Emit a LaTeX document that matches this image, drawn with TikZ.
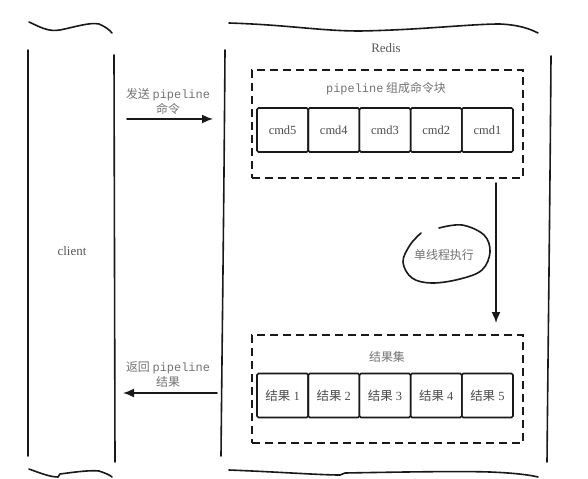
\documentclass[tikz,border=0pt]{standalone}
\usepackage{fontspec}
\setmainfont{Liberation Serif}
\setmonofont{Liberation Mono}
\newfontfamily\cjk{Noto Sans CJK SC}
\usetikzlibrary{arrows.meta}
\newcommand\plword{{\ttfamily pipeline}}
\begin{document}
\begin{tikzpicture}[x=1bp,y=-1bp,
  stroke/.style={line width=1.6bp, line cap=round, line join=round, draw=black!90},
  dbox/.style={draw=black!90, line width=1.6bp, dash pattern=on 8bp off 5bp, minimum width=271bp, minimum height=108bp, inner sep=0pt},
  cell/.style={draw=black!90, line width=1.6bp, rounded corners=1.5bp, minimum width=51.2bp, minimum height=44bp, inner sep=0pt, font=\fontsize{12.5}{14}\selectfont, text=black!70},
  lbl/.style={text=black!55, font=\cjk\fontsize{12}{15}\selectfont, align=center, inner sep=0pt},
  title/.style={text=black!65, font=\fontsize{13}{15}\selectfont, inner sep=0pt},
  arr/.style={stroke, -{Latex[length=11bp,width=9bp]}}]
\useasboundingbox (0,0) rectangle (588,479);
\fill[white] (0,0) rectangle (588,479);
% client
\draw[stroke] (28,50) -- (28,456);
\draw[stroke] (114,55) -- (115,462);
\draw[stroke] (29,22) .. controls (40,27) and (48,32) .. (60,30) .. controls (75,27) and (90,22) .. (99,24) .. controls (104,26) and (110,30) .. (112,33);
\draw[stroke] (29,469) .. controls (40,473) and (50,477) .. (58,477) -- (60,474) .. controls (75,472) and (90,470) .. (99,471) .. controls (105,473) and (110,475) .. (112,477);
\node[title] (client) at (72,251) {client};
% redis
\draw[stroke] (225,50) .. controls (224,200) and (222,350) .. (221,456);
\draw[stroke] (551,56) .. controls (550,200) and (548,350) .. (547,462);
\draw[stroke] (229,23) .. controls (290,25) and (320,31) .. (360,31) .. controls (420,30) and (470,24) .. (500,24) .. controls (520,25) and (530,29) .. (538,33);
\draw[stroke] (229,470) .. controls (280,472) and (320,475) .. (340,475) -- (345,473) .. controls (400,472) and (460,471) .. (490,472) .. controls (515,473) and (530,475) .. (538,477);
\node[title] (redis) at (386,48) {Redis};
% pipeline block
\node[dbox] (blk) at (387.5,124) {};
\node[lbl] (blkt) at (386,89) {\plword\ 组成命令块};
\node[cell] (c5) at (282.6,130) {cmd5};
\node[cell] (c4) at (333.8,130) {cmd4};
\node[cell] (c3) at (385.0,130) {cmd3};
\node[cell] (c2) at (436.2,130) {cmd2};
\node[cell] (c1) at (487.4,130) {cmd1};
% result block
\node[dbox] (res) at (387.5,389) {};
\node[lbl] (rest) at (387,357) {结果集};
\node[cell] (r1) at (282.6,395.5) {{\cjk 结果} 1};
\node[cell] (r2) at (333.8,395.5) {{\cjk 结果} 2};
\node[cell] (r3) at (385.0,395.5) {{\cjk 结果} 3};
\node[cell] (r4) at (436.2,395.5) {{\cjk 结果} 4};
\node[cell] (r5) at (487.4,395.5) {{\cjk 结果} 5};
% send arrow
\coordinate (s1) at (127,119);
\coordinate (s2) at (213,119);
\draw[arr] (s1) -- (s2);
\node[lbl] (sendl) at (168,101.5) {发送 \plword\\命令};
% return arrow
\coordinate (b1) at (217,393);
\coordinate (b2) at (123,393);
\draw[arr] (b1) -- (b2);
\node[lbl] (retl) at (168,375) {返回 \plword\\结果};
% vertical arrow
\coordinate (v1) at (496,183);
\coordinate (v2) at (496,323);
\draw[arr] (v1) -- (v2);
\node[lbl] (exec) at (444,255) {单线程执行};
\draw[stroke] plot[smooth, tension=0.6] coordinates {(421,233) (410,245) (403,262) (412,278) (432,283) (460,279) (482,270) (490,252) (484,235) (462,225) (439,228)};
\end{tikzpicture}
\end{document}
